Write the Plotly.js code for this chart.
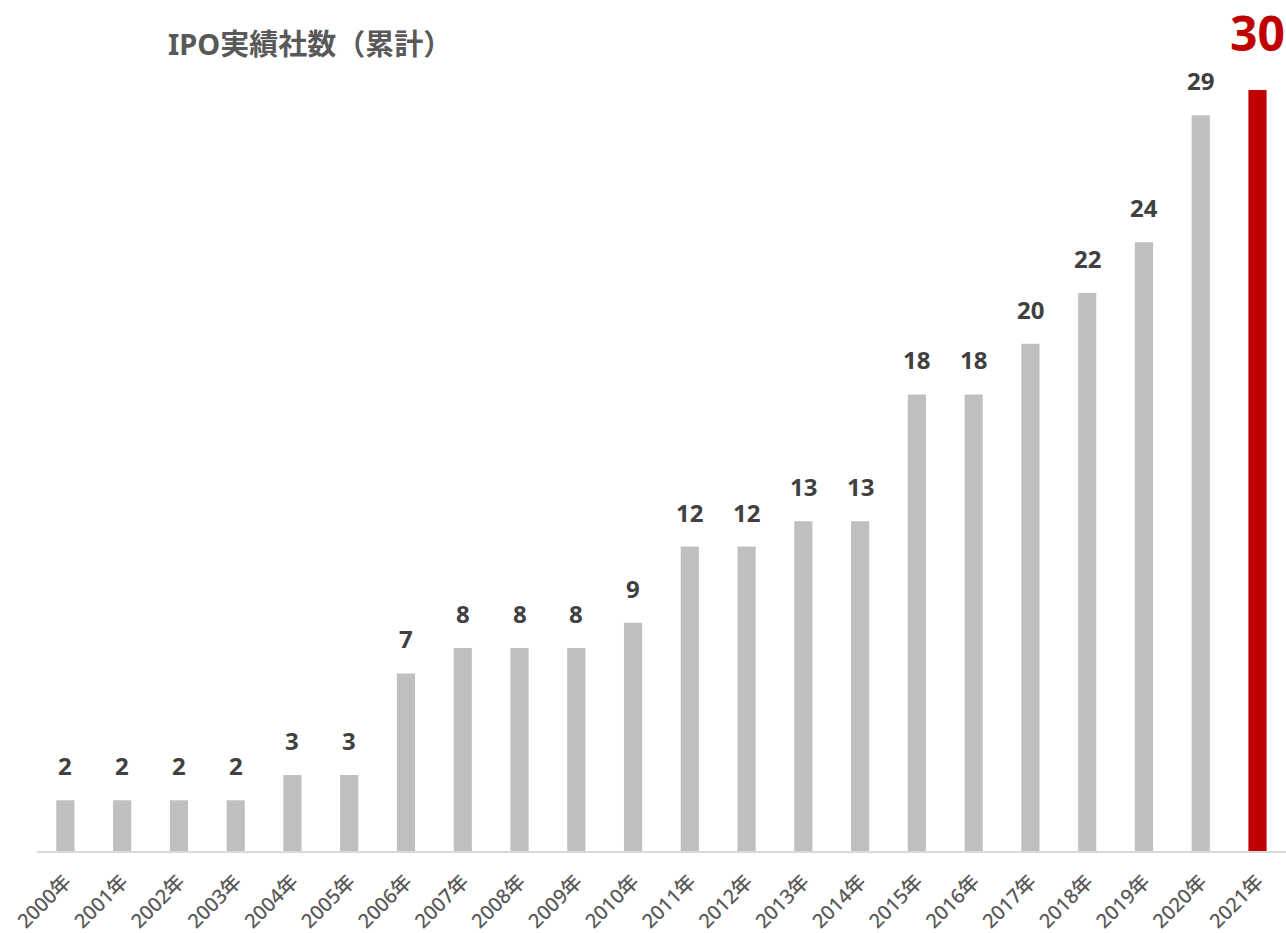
<!DOCTYPE html>
<html>
<head>
<meta charset="utf-8">
<script src="https://cdn.plot.ly/plotly-3.0.1.min.js"></script>
<style>html,body{margin:0;padding:0;background:#fff;overflow:hidden;}#chart{width:1286px;height:933px;}</style>
</head>
<body>
<div id="chart"></div>
<script>
const years = ["2000年","2001年","2002年","2003年","2004年","2005年","2006年","2007年","2008年","2009年","2010年","2011年","2012年","2013年","2014年","2015年","2016年","2017年","2018年","2019年","2020年","2021年"];
const counts = [2,2,2,2,3,3,7,8,8,8,9,12,12,13,13,18,18,20,22,24,29,30];
const titleText = "IPO実績社数（累計）";

const FONT = "'Noto Sans', 'Noto Sans CJK JP', sans-serif";
const last = counts.length - 1;
const colors = counts.map((v, i) => i === last ? "#c00000" : "#bfbfbf");

const annotations = counts.map((v, i) => ({
  x: years[i], y: v, xref: "x", yref: "y",
  text: String(v), showarrow: false,
  yanchor: "bottom", xanchor: "center",
  borderpad: 0,
  yshift: i === last ? 24 : 17,
  font: i === last ? {family: FONT, size: 48, color: "#c00000", weight: 700}
                   : {family: FONT, size: 24, color: "#404040", weight: 700}
}));

annotations.push({
  xref: "paper", yref: "paper", x: 0.103, y: 1, xanchor: "left", yanchor: "bottom",
  yshift: 25, text: titleText, showarrow: false,
  font: {family: FONT, size: 29, color: "#595959", weight: 700}
});

const data = [{
  type: "bar", x: years, y: counts,
  marker: {color: colors},
  width: 0.32, hoverinfo: "x+y"
}];

const layout = {
  width: 1286, height: 933,
  margin: {l: 37, r: 0, t: 90, b: 82, pad: 0, autoexpand: false},
  paper_bgcolor: "#fff", plot_bgcolor: "#fff",
  showlegend: false,
  xaxis: {
    type: "category", tickangle: -45,
    showline: true, linecolor: "#d9d9d9", linewidth: 2,
    ticks: "", showgrid: false, zeroline: false,
    ticklabelstandoff: 9,
    tickfont: {family: FONT, size: 20, color: "#595959", weight: 500},
    automargin: false
  },
  yaxis: {
    range: [0, 30], visible: false, showgrid: false, zeroline: false
  },
  annotations: annotations
};

Plotly.newPlot("chart", data, layout, {displayModeBar: false, staticPlot: true});
</script>
</body>
</html>
